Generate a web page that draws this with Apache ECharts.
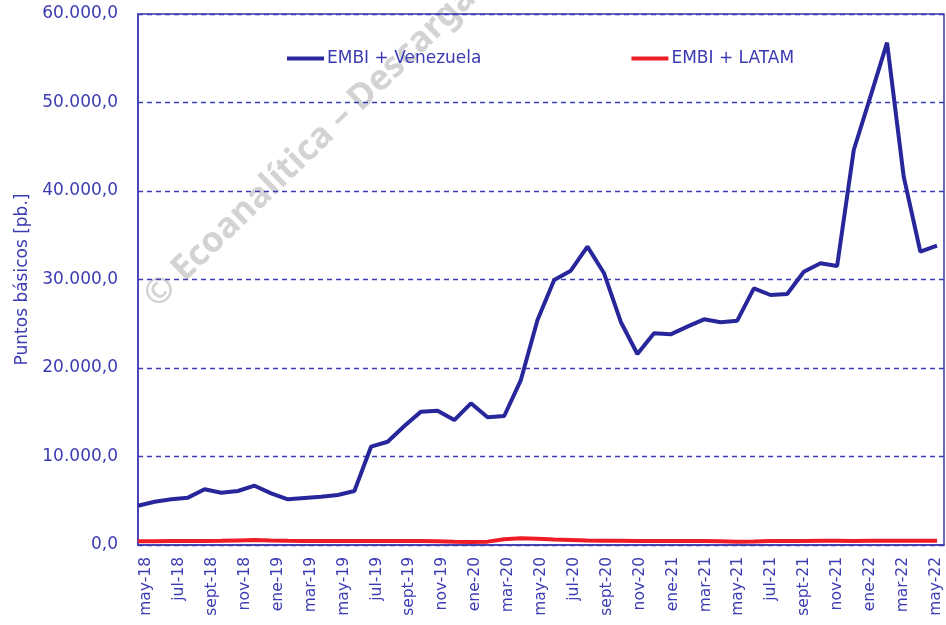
<!DOCTYPE html>
<html>
<head>
<meta charset="utf-8">
<script src="https://cdn.jsdelivr.net/npm/echarts@6/dist/echarts.min.js"></script>
<style>
  html, body { margin: 0; padding: 0; background: #fff; }
  #chart { width: 946px; height: 625px; }
</style>
</head>
<body>
<div id="chart"></div>
<script>
// meses de may-18 a may-22
var months = [
  'may-18', 'jun-18', 'jul-18', 'ago-18', 'sept-18', 'oct-18', 'nov-18', 'dic-18',
  'ene-19', 'feb-19', 'mar-19', 'abr-19', 'may-19', 'jun-19', 'jul-19', 'ago-19',
  'sept-19', 'oct-19', 'nov-19', 'dic-19', 'ene-20', 'feb-20', 'mar-20', 'abr-20',
  'may-20', 'jun-20', 'jul-20', 'ago-20', 'sept-20', 'oct-20', 'nov-20', 'dic-20',
  'ene-21', 'feb-21', 'mar-21', 'abr-21', 'may-21', 'jun-21', 'jul-21', 'ago-21',
  'sept-21', 'oct-21', 'nov-21', 'dic-21', 'ene-22', 'feb-22', 'mar-22', 'abr-22',
  'may-22'
];
var venezuela = [
  4440, 4890, 5160, 5350, 6290, 5910, 6100, 6700,
  5840, 5160, 5310, 5460, 5650, 6100, 11110, 11670,
  13450, 15070, 15180, 14120, 16010, 14430, 14580, 18640,
  25420, 29940, 31000, 33710, 30700, 25230, 21580, 23920,
  23800, 24670, 25500, 25160, 25350, 29000, 28250, 28360,
  30880, 31830, 31530, 44630, 50660, 56760, 41620, 33140,
  33820
];
var latam = [
  430, 430, 440, 450, 460, 470, 520, 560,
  500, 470, 460, 450, 450, 460, 450, 440,
  440, 440, 420, 360, 350, 380, 650, 760,
  700, 620, 560, 500, 480, 470, 450, 440,
  440, 450, 440, 420, 380, 400, 440, 450,
  460, 470, 470, 460, 470, 480, 490, 480,
  470
];
var names = ['EMBI + Venezuela', 'EMBI + LATAM'];

var blue = '#3b3bb3';
var font = 'DejaVu Sans';

// 60000 -> "60.000,0"
function fmt(v) {
  var s = String(Math.round(v));
  s = s.replace(/\B(?=(\d{3})+(?!\d))/g, '.');
  return s + ',0';
}

var option = {
  animation: false,
  backgroundColor: '#fff',
  textStyle: { fontFamily: font },
  graphic: [{
    type: 'text',
    x: 150,
    y: 302,
    rotation: 44 * Math.PI / 180,
    z: 0,
    style: {
      text: '© Ecoanalítica – Descargado',
      fontSize: 35,
      fontWeight: 'bold',
      fontFamily: 'Noto Sans',
      fill: '#d3d3d3',
      textAlign: 'left',
      textVerticalAlign: 'middle'
    }
  }],
  legend: {
    left: 287,
    top: 50,
    padding: 0,
    itemWidth: 37,
    itemHeight: 4,
    itemGap: 150,
    icon: 'rect',
    textStyle: { color: blue, fontSize: 17, fontFamily: font, padding: [0, 0, 0, -2] },
    data: names
  },
  // grid 0: marco, rejilla y etiquetas; grid 1: las lineas
  grid: [
    {
      left: 138,
      right: 2,
      top: 14,
      bottom: 80,
      show: true,
      borderColor: blue,
      borderWidth: 1.5,
      z: 3
    },
    {
      left: 138,
      right: 9,
      top: 14,
      bottom: 80
    }
  ],
  xAxis: [
    {
      type: 'category',
      gridIndex: 0,
      data: months,
      boundaryGap: true,
      axisLine: { lineStyle: { color: blue, width: 1.5 } },
      axisTick: { show: false },
      axisLabel: {
        interval: 1,
        rotate: 90,
        margin: 12,
        color: blue,
        fontSize: 15.5,
        fontFamily: font
      }
    },
    {
      type: 'category',
      gridIndex: 1,
      data: months,
      boundaryGap: false,
      show: false
    }
  ],
  yAxis: [
    {
      type: 'value',
      gridIndex: 0,
      min: 0,
      max: 60000,
      interval: 10000,
      name: 'Puntos básicos [pb.]',
      nameLocation: 'middle',
      nameGap: 105,
      nameTextStyle: { color: blue, fontSize: 17, fontFamily: font },
      axisLine: { show: true, lineStyle: { color: blue, width: 1.5 } },
      axisTick: { show: false },
      axisLabel: {
        margin: 20,
        padding: [4, 0, 0, 0],
        color: blue,
        fontSize: 17,
        fontFamily: font,
        formatter: fmt
      },
      splitLine: {
        show: true,
        lineStyle: { color: blue, width: 1.3, type: [5, 4] }
      }
    },
    {
      type: 'value',
      gridIndex: 1,
      min: 0,
      max: 60000,
      interval: 10000,
      show: false,
      splitLine: { show: false }
    }
  ],
  series: [
    {
      name: names[0],
      type: 'line',
      xAxisIndex: 1,
      yAxisIndex: 1,
      data: venezuela,
      symbol: 'none',
      color: '#27279b',
      lineStyle: { width: 4, color: '#27279b' },
      z: 4
    },
    {
      name: names[1],
      type: 'line',
      xAxisIndex: 1,
      yAxisIndex: 1,
      data: latam,
      symbol: 'none',
      color: '#ee1c25',
      lineStyle: { width: 4, color: '#ee1c25' },
      z: 5
    }
  ]
};

var myChart = echarts.init(document.getElementById('chart'));
myChart.setOption(option);
</script>
</body>
</html>
